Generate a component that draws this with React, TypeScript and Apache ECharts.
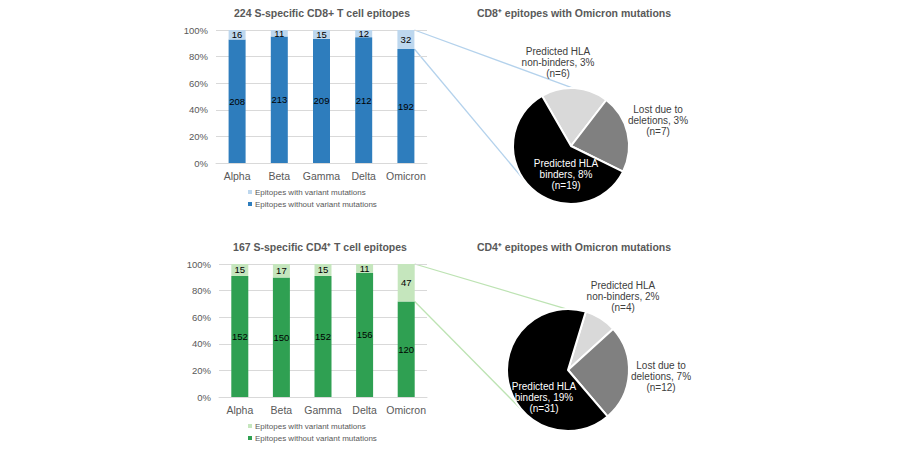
import React, { useEffect, useRef } from 'react'
import * as echarts from 'echarts'

// Bar chart data
const variants = ['Alpha', 'Beta', 'Gamma', 'Delta', 'Omicron']
const cd8With = [16, 11, 15, 12, 32]
const cd8Without = [208, 213, 209, 212, 192]
const cd4With = [15, 17, 15, 11, 47]
const cd4Without = [152, 150, 152, 156, 120]
const yTicks = [0, 20, 40, 60, 80, 100]

// Pie data (epitopes with Omicron mutations)
const pieNames = ['Predicted HLA\nnon-binders', 'Lost due to\ndeletions', 'Predicted HLA\nbinders']
const cd8PieCounts = [6, 7, 19]
const cd8PiePct = [3, 3, 8]
const cd4PieCounts = [4, 12, 31]
const cd4PiePct = [2, 7, 19]

const legendNames = ['Epitopes with variant mutations', 'Epitopes without variant mutations']

const FONT = "'Liberation Sans', Arial, sans-serif"
const TEXT = '#595959'
const BLUE = '#2e7dbd'
const BLUE_LIGHT = '#bdd7ee'
const GREEN = '#2fa052'
const GREEN_LIGHT = '#c5e6bd'
const PIE_COLORS = ['#d9d9d9', '#808080', '#000000']

// layout
const BAR_W = 17
const pies = [
  { center: [571, 146], r: 58, start: 120, lineAngles: [2, 234], lineColor: '#b4d2ec',
    labels: [[-13, -84], [87, -26], [-5, 28]] },
  { center: [568, 370], r: 61, start: 73, lineAngles: [-1, 227], lineColor: '#bde3b3',
    labels: [[55, -74], [93, 6], [-24, 27]] },
]

const toPct = (a: number[], b: number[]) => a.map((v, i) => (v / (v + b[i])) * 100)

const App: React.FC = () => {
  const chartRef = useRef<HTMLDivElement>(null)

  useEffect(() => {
    if (!chartRef.current) return
    const chart = echarts.init(chartRef.current, null, { renderer: 'svg' })

    const grids = [
      { left: 216, right: 473, top: 30, height: 133 },
      { left: 219, right: 473, top: 264, height: 133 },
    ]
    const sets = [
      { withV: cd8With, without: cd8Without, dark: BLUE, light: BLUE_LIGHT },
      { withV: cd4With, without: cd4Without, dark: GREEN, light: GREEN_LIGHT },
    ]

    const barSeries: any[] = []
    sets.forEach((s, gi) => {
      const pWith = toPct(s.withV, s.without)
      const pWithout = toPct(s.without, s.withV)
      barSeries.push({
        name: legendNames[1] + (gi ? ' ' : ''),
        type: 'bar',
        stack: 'g' + gi,
        xAxisIndex: gi,
        yAxisIndex: gi,
        barWidth: BAR_W,
        data: pWithout,
        itemStyle: { color: s.dark },
        label: {
          show: true, position: 'inside', color: '#000', fontSize: 9.5, fontFamily: FONT,
          formatter: (p: any) => String(s.without[p.dataIndex]),
        },
      })
      barSeries.push({
        name: legendNames[0] + (gi ? ' ' : ''),
        type: 'bar',
        stack: 'g' + gi,
        xAxisIndex: gi,
        yAxisIndex: gi,
        barWidth: BAR_W,
        data: pWith,
        itemStyle: { color: s.light },
        label: {
          show: true, position: 'inside', color: '#000', fontSize: 9.5, fontFamily: FONT,
          formatter: (p: any) => String(s.withV[p.dataIndex]),
        },
      })
    })

    const pieSeries = [
      { counts: cd8PieCounts, pct: cd8PiePct },
      { counts: cd4PieCounts, pct: cd4PiePct },
    ].map((d, pi) => {
      const cfg = pies[pi]
      return {
        type: 'pie',
        center: cfg.center,
        radius: cfg.r,
        startAngle: cfg.start,
        clockwise: true,
        silent: true,
        itemStyle: { borderColor: '#fff', borderWidth: 2 },
        labelLine: { show: false },
        label: {
          show: true,
          position: 'inside',
          fontFamily: FONT,
          fontSize: 10,
          lineHeight: 11,
          align: 'center',
          formatter: (p: any) => `${pieNames[p.dataIndex]}, ${d.pct[p.dataIndex]}%\n(n=${d.counts[p.dataIndex]})`,
        },
        labelLayout: (p: any) => {
          const off = cfg.labels[p.dataIndex]
          return { x: cfg.center[0] + off[0], y: cfg.center[1] + off[1], align: 'center', verticalAlign: 'middle' }
        },
        data: d.counts.map((v, i) => ({
          value: v,
          name: pieNames[i],
          itemStyle: { color: PIE_COLORS[i] },
          label: { color: i === 2 ? '#ffffff' : '#404040' },
        })),
      }
    })

    const axisCommon = (gi: number) => ({
      x: {
        type: 'category', gridIndex: gi, data: variants,
        axisLine: { lineStyle: { color: '#d9d9d9' } },
        axisTick: { show: false },
        axisLabel: { color: TEXT, fontSize: 10.5, fontFamily: FONT, margin: 7, interval: 0 },
      },
      y: {
        type: 'value', gridIndex: gi, min: yTicks[0], max: yTicks[yTicks.length - 1], interval: 20,
        axisLine: { show: false },
        axisTick: { show: false },
        splitLine: { lineStyle: { color: '#d9d9d9' } },
        axisLabel: { color: TEXT, fontSize: 9.5, fontFamily: FONT, margin: 8, formatter: '{value}%' },
      },
    })

    const titleTexts = [
      { text: '224 S-specific CD8+ T cell epitopes', x: 322, y: 13 },
      { text: 'CD8\u207A epitopes with Omicron mutations', x: 574, y: 13 },
      { text: '167 S-specific CD4\u207A T cell epitopes', x: 320, y: 247 },
      { text: 'CD4\u207A epitopes with Omicron mutations', x: 574, y: 247 },
    ]

    const legendFor = (gi: number, top: number) => ({
      orient: 'vertical',
      left: 248,
      top,
      padding: 0,
      itemWidth: 4,
      itemHeight: 4,
      itemGap: 4,
      icon: 'rect',
      selectedMode: false,
      textStyle: { color: TEXT, fontSize: 8, fontFamily: FONT, padding: [0, 0, 0, -2] },
      formatter: (n: string) => n.trim(),
      data: [
        { name: legendNames[0] + (gi ? ' ' : ''), itemStyle: { color: sets[gi].light } },
        { name: legendNames[1] + (gi ? ' ' : ''), itemStyle: { color: sets[gi].dark } },
      ],
    })

    chart.setOption({
      animation: false,
      backgroundColor: '#fff',
      textStyle: { fontFamily: FONT },
      grid: grids,
      xAxis: [axisCommon(0).x, axisCommon(1).x],
      yAxis: [axisCommon(0).y, axisCommon(1).y],
      legend: [legendFor(0, 188), legendFor(1, 422)],
      series: [...barSeries, ...pieSeries],
    })

    // connector lines from the Omicron bar to the pies
    const lines: any[] = []
    sets.forEach((s, gi) => {
      const last = variants.length - 1
      const pWithout = toPct(s.without, s.withV)
      const top = chart.convertToPixel({ gridIndex: gi }, [last, 100]) as number[]
      const mid = chart.convertToPixel({ gridIndex: gi }, [last, pWithout[last]]) as number[]
      const cfg = pies[gi]
      const ends = cfg.lineAngles.map((a) => {
        const rad = (a * Math.PI) / 180
        return [cfg.center[0] + cfg.r * Math.sin(rad), cfg.center[1] - cfg.r * Math.cos(rad)]
      })
      ;[top, mid].forEach((st, k) => {
        lines.push({
          type: 'line',
          z: -1,
          silent: true,
          shape: { x1: st[0] + BAR_W / 2, y1: st[1], x2: ends[k][0], y2: ends[k][1] },
          style: { stroke: cfg.lineColor, lineWidth: 1.3 },
        })
      })
    })

    chart.setOption({
      graphic: [
        ...lines,
        ...titleTexts.map((t) => ({
          type: 'text',
          x: t.x,
          y: t.y,
          silent: true,
          style: {
            text: t.text, fill: TEXT, font: `bold 10.5px ${FONT}`,
            align: 'center', verticalAlign: 'middle',
          },
        })),
      ],
    })

    return () => {
      chart.dispose()
    }
  }, [])

  return (
    <div
      ref={chartRef}
      style={{ position: 'fixed', left: 0, top: 0, width: '900px', height: '450px' }}
    />
  )
}

export default App
